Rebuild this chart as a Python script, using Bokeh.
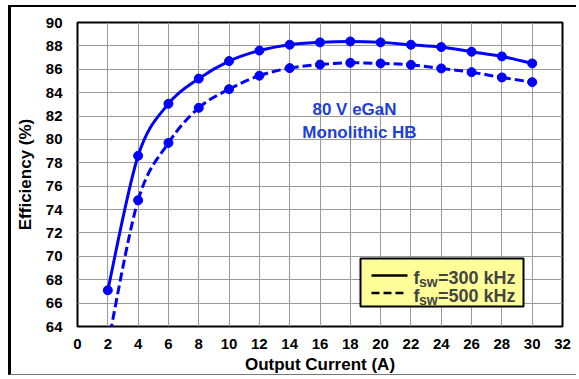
import numpy as np
from bokeh.plotting import figure
from bokeh.models import BoxAnnotation, Label, Range1d, FixedTicker
from bokeh.embed import file_html
from bokeh.resources import INLINE

# ---- data ----
current = [2, 4, 6, 8, 10, 12, 14, 16, 18, 20, 22, 24, 26, 28, 30]
eff_300khz = [67.1, 78.6, 83.05, 85.2, 86.7, 87.6, 88.1, 88.3, 88.38, 88.3, 88.1, 87.9, 87.5, 87.1, 86.5]
eff_500khz = [62.4, 74.8, 79.7, 82.7, 84.3, 85.45, 86.1, 86.4, 86.55, 86.5, 86.38, 86.07, 85.75, 85.3, 84.9]
x_ticks = list(range(0, 33, 2))
y_ticks = list(range(64, 91, 2))
label_300 = "=300 kHz"
label_500 = "=500 kHz"
note_lines = ["80 V eGaN", "Monolithic HB"]

FONT = "Liberation Sans"
BLUE = "#0000ff"

# page layout (pixels): outer border offsets and frame placement
OX, OY = 11, 7            # canvas origin inside the outer border
W, H = 568, 370           # canvas size
FL, FR, FT, FB = 77, 562, 22, 326   # frame edges in page pixels
X0, X1, Y0, Y1 = 0, 32, 64, 90

def dx(px):
    return X0 + (px - FL) / (FR - FL) * (X1 - X0)

def dy(py):
    return Y0 + (FB - py) / (FB - FT) * (Y1 - Y0)

p = figure(width=W, height=H, output_backend="svg", toolbar_location=None,
           x_range=Range1d(X0, X1), y_range=Range1d(Y0, Y1),
           min_border_left=FL - OX, min_border_right=W - (FR - OX),
           min_border_top=FT - OY, min_border_bottom=H - (FB - OY),
           styles={"border-left": "3px solid black", "border-top": "2px solid black",
                   "border-bottom": "1px solid #777777", "margin-left": "8px",
                   "margin-top": "5px"})
p.background_fill_color = "white"
p.border_fill_color = "white"
p.outline_line_color = "black"
p.outline_line_width = 2

for ax in (p.xaxis[0], p.yaxis[0]):
    ax.axis_line_color = None
    ax.major_tick_out = 0
    ax.major_tick_in = 0
    ax.minor_tick_out = 0
    ax.minor_tick_in = 0
    ax.major_label_text_font = FONT
    ax.major_label_text_font_style = "bold"
    ax.major_label_text_font_size = "15px"
    ax.major_label_text_color = "black"
    ax.axis_label_text_font = FONT
    ax.axis_label_text_font_style = "bold"
    ax.axis_label_text_font_size = "17px"
    ax.axis_label_text_color = "black"

p.xaxis.ticker = FixedTicker(ticks=x_ticks)
p.yaxis.ticker = FixedTicker(ticks=y_ticks)
p.xaxis.axis_label = "Output Current (A)"
p.yaxis.axis_label = "Efficiency (%)"
p.xaxis.major_label_standoff = 12
p.xaxis.axis_label_standoff = 3
p.yaxis.major_label_standoff = 15
p.yaxis.axis_label_standoff = 8

p.grid.grid_line_color = "#9a9a9a"
p.grid.grid_line_width = 1
p.xgrid.ticker = FixedTicker(ticks=x_ticks)
p.ygrid.ticker = FixedTicker(ticks=y_ticks)


def smooth_controls(xs, ys, t=1 / 6):
    xs = np.asarray(xs, float)
    ys = np.asarray(ys, float)
    n = len(xs)
    xp = np.concatenate([[xs[0]], xs, [xs[-1]]])
    yp = np.concatenate([[ys[0]], ys, [ys[-1]]])
    x0, y0 = xs[:-1], ys[:-1]
    x1, y1 = xs[1:], ys[1:]
    cx0 = x0 + (xp[2:n + 1] - xp[0:n - 1]) * t
    cy0 = y0 + (yp[2:n + 1] - yp[0:n - 1]) * t
    cx1 = x1 - (xp[3:n + 2] - xp[1:n]) * t
    cy1 = y1 - (yp[3:n + 2] - yp[1:n]) * t
    return dict(x0=x0, y0=y0, x1=x1, y1=y1, cx0=cx0, cy0=cy0, cx1=cx1, cy1=cy1)

c300 = smooth_controls(current, eff_300khz)
c500 = smooth_controls(current, eff_500khz)
p.bezier(source=c300, x0="x0", y0="y0", x1="x1", y1="y1", cx0="cx0", cy0="cy0",
         cx1="cx1", cy1="cy1", line_color=BLUE, line_width=3)
p.bezier(source=c500, x0="x0", y0="y0", x1="x1", y1="y1", cx0="cx0", cy0="cy0",
         cx1="cx1", cy1="cy1", line_color=BLUE, line_width=3, line_dash="9 4")
p.scatter(current, eff_300khz, size=9, color=BLUE)
p.scatter(current, eff_500khz, size=9, color=BLUE)

# annotation text
note_col = "#1f3fd1"
p.add_layout(Label(x=dx(354), y=dy(109), text=note_lines[0], text_align="center",
                   text_baseline="alphabetic", text_font=FONT, text_font_style="bold",
                   text_font_size="17px", text_color=note_col))
p.add_layout(Label(x=dx(359), y=dy(131.5), text=note_lines[1], text_align="center",
                   text_baseline="alphabetic", text_font=FONT, text_font_style="bold",
                   text_font_size="17px", text_color=note_col))

# manual legend
p.add_layout(BoxAnnotation(left=dx(360), right=dx(523), top=dy(258), bottom=dy(306),
                           fill_color="#ffff99", fill_alpha=1, line_color="black",
                           line_width=2, line_alpha=1))
s1 = p.segment(x0=[dx(371)], y0=[dy(275)], x1=[dx(407)], y1=[dy(275)],
               line_color="black", line_width=2.5)
s2 = p.segment(x0=[dx(371)], y0=[dy(292.5)], x1=[dx(407)], y1=[dy(292.5)],
               line_color="black", line_width=2.5, line_dash="8 4")
s1.level = "overlay"
s2.level = "overlay"
for base, lab in ((277.5, label_300), (295.5, label_500)):
    p.add_layout(Label(x=dx(413), y=dy(base), text="f", text_baseline="alphabetic",
                       text_font=FONT, text_font_style="bold", text_font_size="18px"))
    p.add_layout(Label(x=dx(418.5), y=dy(base + 4), text="sw", text_baseline="alphabetic",
                       text_font=FONT, text_font_style="bold", text_font_size="14px"))
    p.add_layout(Label(x=dx(437.5), y=dy(base), text=lab, text_baseline="alphabetic",
                       text_font=FONT, text_font_style="bold", text_font_size="18px"))

open("out.html", "w").write(file_html(p, INLINE))
